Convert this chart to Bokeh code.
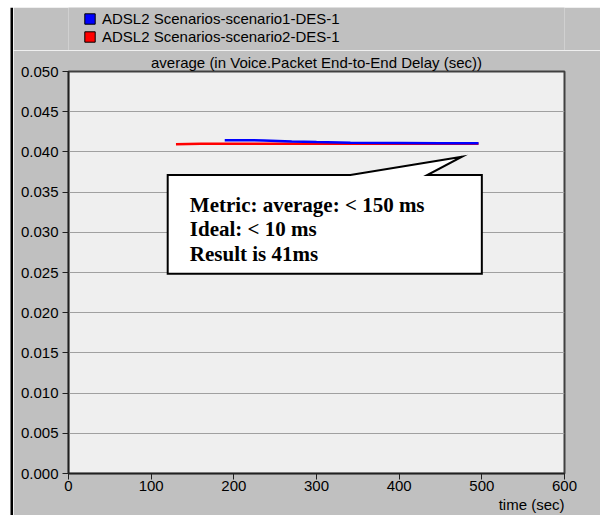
from bokeh.plotting import figure
from bokeh.layouts import row, column
from bokeh.models import FixedTicker, NumeralTickFormatter, Legend, LegendItem, Title
from bokeh.embed import file_html
from bokeh.resources import INLINE
from bokeh.core.properties import value

# ---- data ----
series_names = ["ADSL2 Scenarios-scenario1-DES-1", "ADSL2 Scenarios-scenario2-DES-1"]
series_colors = ["#0000ff", "#ff0000"]

s1_time = [189, 236, 270, 300, 341, 400, 450, 496]
s1_delay = [0.04145, 0.04143, 0.04130, 0.04122, 0.04115, 0.04111, 0.04108, 0.04107]

s2_time = [130, 160, 200, 250, 300, 350, 400, 450, 496]
s2_delay = [0.04095, 0.04100, 0.04102, 0.04102, 0.04101, 0.04101, 0.04101, 0.04101, 0.04101]

x_ticks = [0, 100, 200, 300, 400, 500, 600]
y_ticks = [0.000, 0.005, 0.010, 0.015, 0.020, 0.025, 0.030, 0.035, 0.040, 0.045, 0.050]

title_text = "average (in Voice.Packet End-to-End Delay (sec))"
x_label = "time (sec)"

callout_x = [120, 341, 476, 434, 500, 500, 120]
callout_y = [0.03712, 0.03712, 0.03940, 0.03712, 0.03712, 0.02486, 0.02486]
callout_lines = ["Metric: average: < 150 ms", "Ideal: < 10 ms", "Result is 41ms"]
callout_text_x = [146.8, 146.8, 146.8]
callout_text_y = [0.03338, 0.03035, 0.02736]

SANS = "Liberation Sans"
GRAY = "#c0c0c0"
LEFT_B, RIGHT_B = 55, 36


def bare_fig(w, h, xr, yr, bg, lb=0, rb=0):
    f = figure(width=w, height=h, x_range=xr, y_range=yr, output_backend="svg",
               toolbar_location=None, x_axis_type=None, y_axis_type=None,
               min_border=0, min_border_left=lb, min_border_right=rb,
               min_border_top=0, min_border_bottom=0,
               background_fill_color=bg, border_fill_color=bg)
    f.outline_line_color = None
    f.xgrid.visible = False
    f.ygrid.visible = False
    return f


# ---- top band: white page edge + black window frame line ----
band = bare_fig(600, 7, (0, 600), (7, 0), "white")
band.quad(left=[10], right=[600], top=[5], bottom=[7], fill_color="black", line_color=None)

# ---- left strip: white page edge + black window frame ----
left = bare_fig(13, 508, (0, 13), (508, 0), "white")
left.quad(left=[10], right=[13], top=[0], bottom=[508], fill_color="black", line_color=None)

# ---- legend strip ----
top = bare_fig(587, 43, (0, 600), (0, 1), GRAY, LEFT_B, RIGHT_B)
sw1 = top.quad(left=[-60], right=[-50], top=[0.6], bottom=[0.5],
               fill_color=series_colors[0], line_color="black")
sw2 = top.quad(left=[-60], right=[-50], top=[0.6], bottom=[0.5],
               fill_color=series_colors[1], line_color="black")
legend = Legend(items=[LegendItem(label=series_names[0], renderers=[sw1]),
                       LegendItem(label=series_names[1], renderers=[sw2])],
                location=(15, 5), orientation="vertical",
                glyph_width=13, glyph_height=13, label_height=17, spacing=1,
                padding=2, margin=0, label_standoff=6,
                label_text_font=SANS, label_text_font_size="15px",
                label_text_color="black",
                background_fill_alpha=0, border_line_color=None)
top.add_layout(legend)

# ---- main chart ----
p = figure(width=587, height=465, x_range=(0, 600), y_range=(0, 0.05),
           output_backend="svg", toolbar_location=None,
           min_border_left=LEFT_B, min_border_right=RIGHT_B, min_border_top=21, min_border_bottom=42,
           background_fill_color="#efefef", border_fill_color=GRAY)

p.title.text = title_text
p.title.align = "center"
p.title.text_font = SANS
p.title.text_font_size = "15px"
p.title.text_font_style = "normal"
p.title.text_color = "black"
p.title.standoff = 1

for ax in (p.xaxis[0], p.yaxis[0]):
    ax.major_label_text_font = SANS
    ax.major_label_text_font_size = "15px"
    ax.major_label_text_color = "black"
    ax.axis_line_color = "#202020"
    ax.axis_line_width = 1.5
    ax.major_tick_line_color = "#202020"
    ax.major_tick_out = 6
    ax.major_tick_in = 0
    ax.minor_tick_line_color = None

p.xaxis[0].ticker = FixedTicker(ticks=x_ticks)
p.yaxis[0].ticker = FixedTicker(ticks=y_ticks)
p.yaxis[0].formatter = NumeralTickFormatter(format="0.000")
p.yaxis[0].major_label_standoff = 4
p.xaxis[0].major_label_standoff = 1

# x-axis title, right aligned under the plot
xt = Title(text=x_label, align="right", text_font=SANS, text_font_size="15px",
           text_font_style="normal", text_color="black", standoff=0)
p.add_layout(xt, "below")

p.xgrid.visible = False
p.ygrid.ticker = FixedTicker(ticks=y_ticks)
p.ygrid.grid_line_color = "#a0a0a0"
p.ygrid.grid_line_width = 1

p.outline_line_color = "#404040"
p.outline_line_width = 2

p.line(s2_time, s2_delay, line_color=series_colors[1], line_width=2.5)
p.line(s1_time, s1_delay, line_color=series_colors[0], line_width=2.5)

p.patch(callout_x, callout_y, fill_color="white", line_color="black", line_width=2,
        line_join="miter")
p.text(x=callout_text_x, y=callout_text_y, text=callout_lines,
       text_font=value("Liberation Serif"), text_font_style="bold",
       text_font_size="21px", text_color="black", text_baseline="alphabetic",
       text_align="left")

layout = column(band, row(left, column(top, p, spacing=0), spacing=0), spacing=0)

open("out.html", "w").write(file_html(layout, INLINE))
